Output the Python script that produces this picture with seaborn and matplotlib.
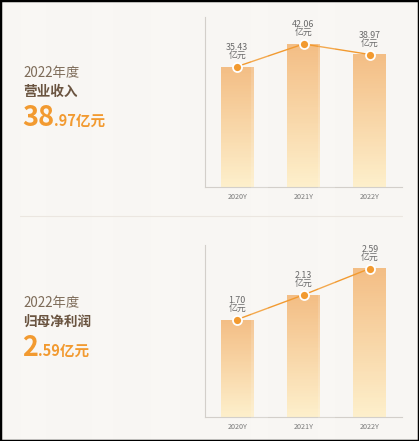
import numpy as np
import pandas as pd
import seaborn as sns
import matplotlib.pyplot as plt
from matplotlib.patches import Rectangle
from matplotlib.colors import LinearSegmentedColormap

years = ["2020Y", "2021Y", "2022Y"]
revenue = [35.43, 42.06, 38.97]
profit = [1.70, 2.13, 2.59]
panel_titles = ["营业收入", "归母净利润"]
panel_year = "2022年度"

sns.set_theme(style="white")
plt.rcParams['font.family'] = ['Noto Sans CJK SC', 'DejaVu Sans']

BG = "#f8f6f3"
ORANGE = "#f29a30"
grad = LinearSegmentedColormap.from_list("bar", ["#fdefcb", "#f3bd84"])

fig = plt.figure(figsize=(4.19, 4.41), dpi=100, facecolor=BG)

# faint vertical light bands in the background
for x0, w in [(0.05, 0.06), (0.22, 0.05), (0.36, 0.07), (0.6, 0.04), (0.76, 0.04)]:
    fig.patches.append(Rectangle((x0, 0), w, 1, transform=fig.transFigure,
                                 facecolor="white", alpha=0.15, edgecolor="none", zorder=0))


def draw_panel(rect, values, ymax):
    ax = fig.add_axes(rect)
    ax.set_facecolor("none")
    df = pd.DataFrame({"year": years, "value": values})
    sns.barplot(data=df, x="year", y="value", ax=ax, width=0.5, color="white")
    n = 80
    frac = np.linspace(0, 1, n + 1)
    for p in list(ax.patches):
        x0, y0 = p.get_x(), p.get_y()
        w, h = p.get_width(), p.get_height()
        p.set_visible(False)
        # vertical gradient as thin stacked slices of the bar
        ax.bar(x0 + w / 2, h / n * 1.02, bottom=y0 + frac[:-1] * h, width=w,
               color=grad(frac[:-1]), linewidth=0, zorder=1)
    sns.pointplot(data=df, x="year", y="value", ax=ax, color=ORANGE,
                  linewidth=1.0, markersize=6.5, markeredgecolor="white",
                  markeredgewidth=1.3, zorder=5)
    for i, v in enumerate(values):
        ax.annotate(f"{v:.2f}\n亿元", (i, v), xytext=(0, 5), textcoords="offset points",
                    ha="center", va="bottom", fontsize=6.4, color="#6a6a6a",
                    linespacing=0.85, zorder=6)
    ax.set_xlim(-0.485, 2.485)
    ax.set_ylim(0, ymax)
    ax.set_xlabel("")
    ax.set_ylabel("")
    ax.set_yticks([])
    ax.tick_params(axis="x", length=0, pad=4.5, labelsize=5.2, labelcolor="#7a7a7a")
    for s in ["top", "right"]:
        ax.spines[s].set_visible(False)
    for s in ["left", "bottom"]:
        ax.spines[s].set_color("#d3cfca")
        ax.spines[s].set_linewidth(0.8)
    return ax


draw_panel([205 / 419, 1 - 187 / 441, 197 / 419, 170 / 441], revenue, 50)
draw_panel([205 / 419, 1 - 417 / 441, 197 / 419, 172 / 441], profit, 3.0)

renderer = fig.canvas.get_renderer()


def side_text(y_year, y_title, y_base, title, value):
    fig.text(23 / 419, 1 - y_year / 441, panel_year, fontsize=9.6, color="#7d6b58",
             va="center", ha="left")
    fig.text(23 / 419, 1 - y_title / 441, title, fontsize=9.8, color="#6a5440",
             fontweight="bold", va="center", ha="left")
    whole, frac = f"{value:.2f}".split(".")
    t = fig.text(22 / 419, 1 - y_base / 441, whole, fontsize=19.5, color=ORANGE,
                 fontweight="bold", va="baseline", ha="left")
    bb = t.get_window_extent(renderer)
    fig.text(bb.x1 / fig.bbox.width, 1 - y_base / 441, "." + frac + "亿元", fontsize=10.5,
             color=ORANGE, fontweight="bold", va="baseline", ha="left")


side_text(73, 92, 126, panel_titles[0], revenue[-1])
side_text(303, 322, 356, panel_titles[1], profit[-1])

# faint divider between panels
fig.add_artist(plt.Line2D([20 / 419, 402 / 419], [1 - 216 / 441, 1 - 216 / 441],
                          transform=fig.transFigure, color="#ebe6e0", linewidth=0.8))
# black frame
fig.patches.append(Rectangle((0, 0), 1, 1, transform=fig.transFigure, facecolor="none",
                             edgecolor="black", linewidth=2.5, zorder=10))

fig.savefig("out.png", dpi=100, facecolor=BG)
